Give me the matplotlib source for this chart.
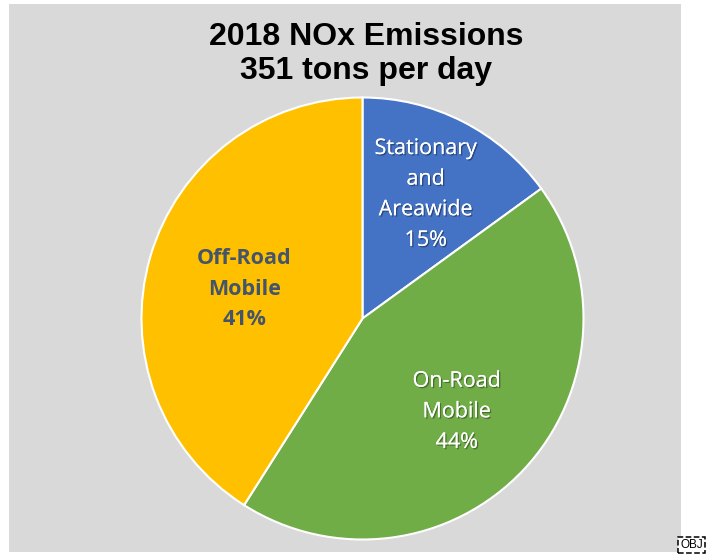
import numpy as np
import matplotlib
matplotlib.use('Agg')
import matplotlib.pyplot as plt
import matplotlib.patches as mpatches
import matplotlib.patheffects as pe

# NOx emission shares, clockwise from 12 o'clock
categories = ['Stationary\nand\nAreawide', 'On-Road\nMobile', 'Off-Road\nMobile']
shares = [15, 44, 41]
colors = ['#4472c4', '#70ad47', '#ffc000']
label_colors = ['white', 'white', '#44546a']
label_weights = ['normal', 'normal', 'bold']
label_radius = [0.63, 0.60, 0.55]
label_turn = [0.0, 1.5, -2.2]   # degrees, nudges a label around the centre

W, H = 707, 558
fig = plt.figure(figsize=(W / 100, H / 100), dpi=100)
ax = fig.add_axes([0, 0, 1, 1])

cx, cy, r = 362.5, 318.5, 221
# y axis runs downward (pixel style), so start at -90 and go counterclockwise
# in data space to get a clockwise pie from the top on screen
wedges, _ = ax.pie(shares, colors=colors, startangle=-90, counterclock=True,
                   center=(cx, cy), radius=r, frame=True,
                   wedgeprops=dict(edgecolor='white', linewidth=1.5))
ax.set_xlim(0, W)
ax.set_ylim(H, 0)
ax.set_aspect('equal')
ax.axis('off')

# grey chart area
ax.add_patch(mpatches.Rectangle((9, 4), 672, 548, facecolor='#d9d9d9',
                                edgecolor='none', zorder=0))

shadow = [pe.withSimplePatchShadow(offset=(1, -1), shadow_rgbFace='black', alpha=0.35),
          pe.Normal()]
for w, cat, s, col, fw, lr, turn in zip(wedges, categories, shares, label_colors,
                                        label_weights, label_radius, label_turn):
    ang = np.deg2rad((w.theta1 + w.theta2) / 2 + turn)
    tx = cx + lr * r * np.cos(ang)
    ty = cy + lr * r * np.sin(ang)
    txt = ax.text(tx, ty, f'{cat}\n{s}%', ha='center', va='center', color=col,
                  fontsize=15.5, fontweight=fw, family='Open Sans', linespacing=1.6)
    if col == 'white':
        txt.set_path_effects(shadow)

ax.text(366, 54, '2018 NOx Emissions\n351 tons per day', ha='center', va='center',
        fontsize=23, fontweight='bold', family='Liberation Sans', linespacing=1.15)

ax.text(703, 545, 'OBJ', ha='right', va='center', fontsize=8.5, family='Liberation Sans',
        bbox=dict(boxstyle='square,pad=0.2', facecolor='white', edgecolor='black',
                  linestyle='--', linewidth=1.1))

fig.savefig('out.png', dpi=100)
